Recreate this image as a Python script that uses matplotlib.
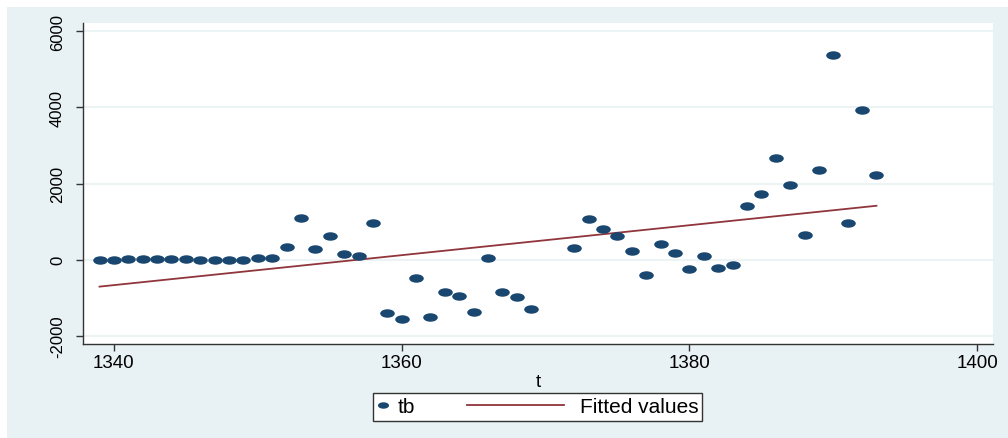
import numpy as np
import matplotlib
matplotlib.use("Agg")
import matplotlib.pyplot as plt
from matplotlib.path import Path
from matplotlib.patches import Rectangle
from matplotlib.lines import Line2D
from matplotlib.legend_handler import HandlerBase

plt.rcParams['font.family'] = ['Liberation Sans', 'DejaVu Sans']

years = [1339, 1340, 1341, 1342, 1343, 1344, 1345, 1346, 1347, 1348, 1349,
         1350, 1351, 1352, 1353, 1354, 1355, 1356, 1357, 1358, 1359, 1360,
         1361, 1362, 1363, 1364, 1365, 1366, 1367, 1368, 1369,
         1372, 1373, 1374, 1375, 1376, 1377, 1378, 1379, 1380, 1381, 1382,
         1383, 1384, 1385, 1386, 1387, 1388, 1389, 1390, 1391, 1392, 1393]
tb = [0, 0, 20, 20, 5, 10, 5, 0, 0, -10, -10,
      30, 35, 343, 1082, 282, 607, 150, 98, 969, -1415, -1558,
      -492, -1504, -862, -959, -1390, 53, -862, -994, -1302,
      309, 1074, 792, 625, 220, -413, 422, 185, -238, 88, -220,
      -148, 1410, 1734, 2658, 1963, 634, 2359, 5386, 950, 3934, 2236]

xticks = [1340, 1360, 1380, 1400]
yticks = [-2000, 0, 2000, 4000, 6000]

BG = '#E8F1F3'
NAVY = '#1A476F'
MAROON = '#90353B'

W, H = 1008, 439
fig = plt.figure(figsize=(W / 100, H / 100), dpi=100)
fig.patch.set_facecolor('white')
fig.patches.append(Rectangle((7 / W, 0), 1 - 7 / W, 1 - 8 / H,
                             transform=fig.transFigure, facecolor=BG,
                             edgecolor='none', zorder=-10))

left, right, top, bottom = 83, 993, 24, 345
ax = fig.add_axes([left / W, 1 - bottom / H, (right - left) / W, (bottom - top) / H])
ax.set_facecolor('white')

x = np.array(years, dtype=float)
y = np.array(tb, dtype=float)
slope, intercept = np.polyfit(x, y, 1)
xf = np.array([x.min(), x.max()])

ell = Path.unit_circle().transformed(matplotlib.transforms.Affine2D().scale(1.0, 0.58))

ax.plot(xf, intercept + slope * xf, color=MAROON, lw=1.3, zorder=2)
ax.plot(x, y, linestyle='none', marker=ell, markersize=10.5, color=NAVY,
        markeredgewidth=0, zorder=3)

ax.set_xlim(1337.85, 1401.1)
ax.set_ylim(-2219, 6219)
ax.set_xticks(xticks)
ax.set_yticks(yticks)
ax.set_xticklabels([str(v) for v in xticks], fontsize=13.5)
ax.set_yticklabels([str(v) for v in yticks], fontsize=12, rotation=90, va='center')
ax.grid(axis='y', color=BG, lw=1.2)
ax.set_axisbelow(True)
for s in ['top', 'right']:
    ax.spines[s].set_visible(False)
for s in ['left', 'bottom']:
    ax.spines[s].set_color('#333333')
    ax.spines[s].set_linewidth(1.0)
ax.tick_params(axis='both', direction='out', length=5, width=1, color='#333333')
ax.tick_params(axis='x', pad=2)
ax.tick_params(axis='y', pad=8)
ax.set_xlabel('t', fontsize=13.5, labelpad=2)


class LongLineHandler(HandlerBase):
    """Draws the fitted-line legend key reaching back into the column gap."""
    def create_artists(self, legend, orig_handle, xdescent, ydescent, width,
                       height, fontsize, trans):
        yy = height / 2 - ydescent
        line = Line2D([-xdescent - 66.4, -xdescent + 3.5], [yy, yy],
                      color=orig_handle.get_color(), lw=orig_handle.get_linewidth())
        line.set_transform(trans)
        return [line]


h_pts = Line2D([], [], linestyle='none', marker=ell, markersize=8, color=NAVY,
               markeredgewidth=0)
h_fit = Line2D([], [], color=MAROON, lw=1.3)
leg = fig.legend([h_pts, h_fit], ['tb', 'Fitted values'], loc='center',
                 bbox_to_anchor=(537.5 / W, 1 - 408 / H), ncol=2,
                 fontsize=15, frameon=True, fancybox=False, handlelength=0.6,
                 columnspacing=6.9, handletextpad=0.4, borderpad=0.2,
                 borderaxespad=0, handler_map={h_fit: LongLineHandler()})
leg.get_frame().set_edgecolor('#333333')
leg.get_frame().set_facecolor('white')
leg.get_frame().set_alpha(1.0)
leg.get_frame().set_linewidth(1.0)

fig.savefig('out.png', dpi=100, facecolor=fig.get_facecolor())
